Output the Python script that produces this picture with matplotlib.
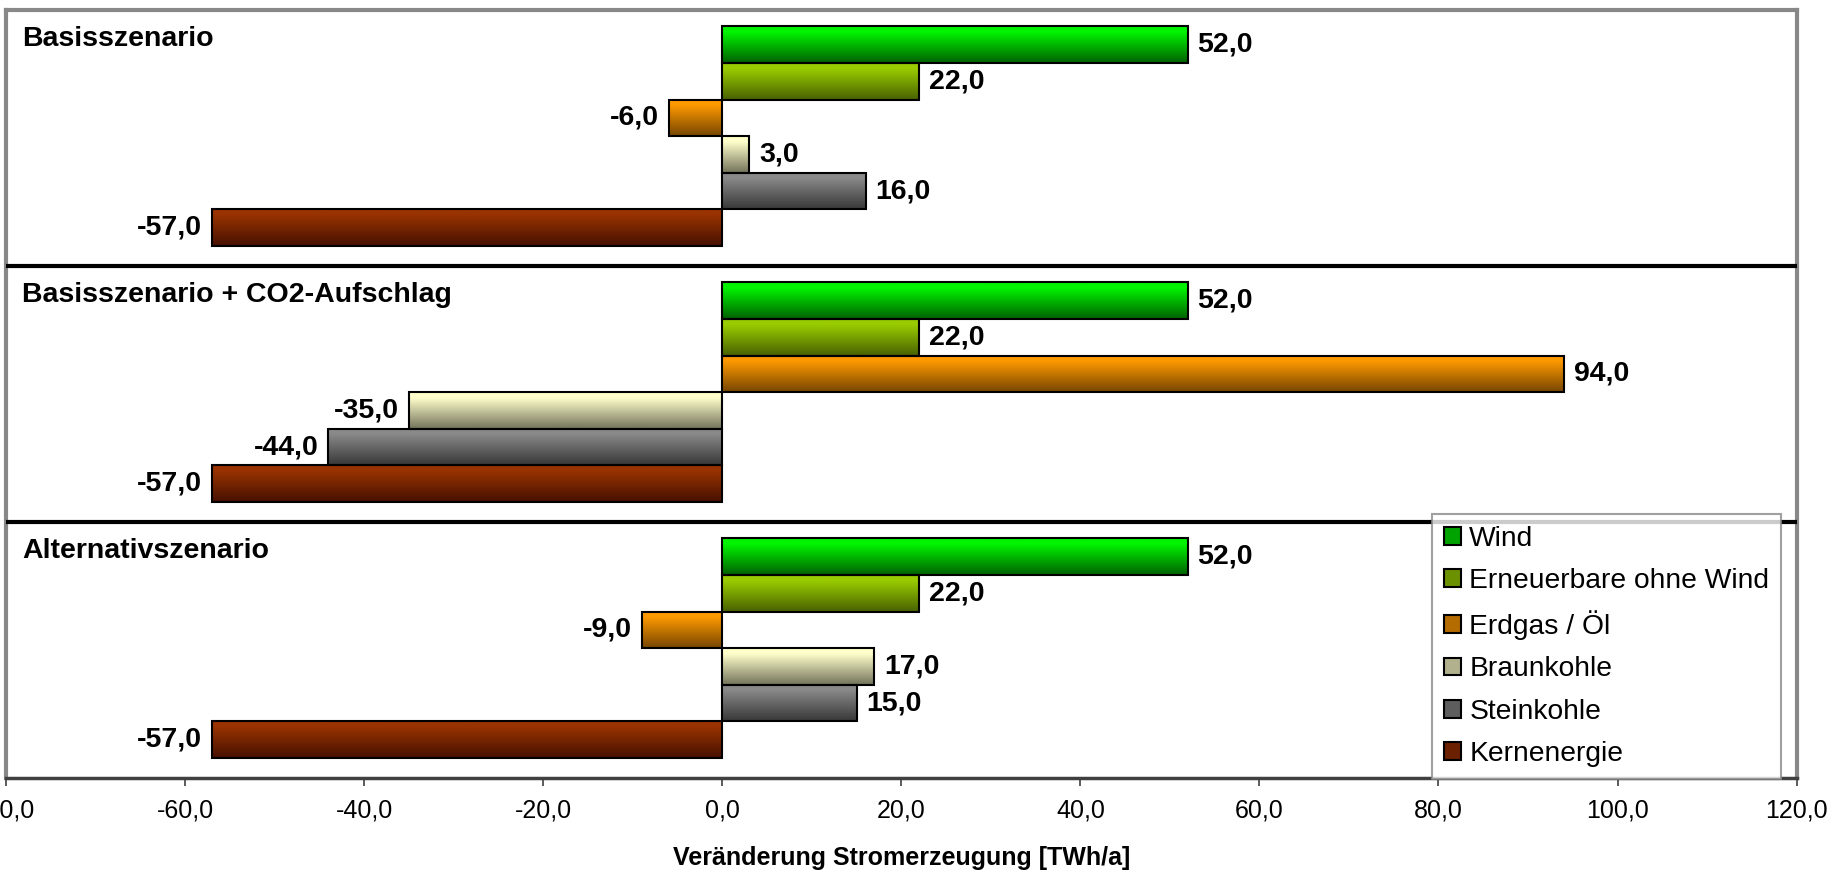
import numpy as np
import matplotlib
matplotlib.use("Agg")
import matplotlib.pyplot as plt
from matplotlib.colors import LinearSegmentedColormap, to_rgb, to_hex
from matplotlib.patches import Patch
from matplotlib.ticker import FuncFormatter, MultipleLocator

plt.rcParams['font.family'] = ['Liberation Sans', 'DejaVu Sans']

# =========================
# Daten
# =========================
szenarien = ["Basisszenario", "Basisszenario + CO2-Aufschlag", "Alternativszenario"]
energietraeger = ["Wind", "Erneuerbare ohne Wind", "Erdgas / Öl",
                  "Braunkohle", "Steinkohle", "Kernenergie"]

basis = [52.0, 22.0, -6.0, 3.0, 16.0, -57.0]
basis_co2 = [52.0, 22.0, 94.0, -35.0, -44.0, -57.0]
alternativ = [52.0, 22.0, -9.0, 17.0, 15.0, -57.0]
werte = [basis, basis_co2, alternativ]

# Farbverlauf (oben hell, unten dunkel)
farben_oben = ["#00f500", "#99cc00", "#ff9900", "#ffffcc", "#8a8a8a", "#993300"]
farben_unten = ["#006000", "#486000", "#764600", "#72725a", "#383838", "#461000"]

# =========================
# Layout
# =========================
PANEL = 7.0      # Höhe eines Szenario-Blocks in Balkeneinheiten
OFFSET = 0.95    # Mitte des ersten Balkens im Block

fig = plt.figure(figsize=(18.37, 8.93), dpi=100)
ax = fig.add_axes([0.0033, 0.1288, 0.9747, 0.86])

gradient = np.linspace(0, 1, 256).reshape(-1, 1)

for g, vals in enumerate(werte):
    y = g * PANEL + OFFSET + np.arange(len(vals))
    bars = ax.barh(y, vals, height=1.0, facecolor="none",
                   edgecolor="black", linewidth=1.5, zorder=3)
    for i, (bar, v) in enumerate(zip(bars, vals)):
        cmap = LinearSegmentedColormap.from_list(
            "g", [(0.0, farben_oben[i]), (0.15, farben_oben[i]), (1.0, farben_unten[i])])
        x0, y0 = bar.get_x(), bar.get_y()
        w, h = bar.get_width(), bar.get_height()
        im = ax.imshow(gradient, cmap=cmap, aspect="auto",
                       extent=[x0, x0 + w, y0 + h, y0], zorder=2,
                       interpolation="bicubic")
        im.set_clip_path(bar)
        txt = f"{v:.1f}".replace(".", ",")
        if v >= 0:
            ax.annotate(txt, (v, y0 + h / 2), xytext=(7, 0),
                        textcoords="offset points", ha="left", va="center",
                        fontsize=20.5, fontweight="bold")
        else:
            ax.annotate(txt, (v, y0 + h / 2), xytext=(-7, 0),
                        textcoords="offset points", ha="right", va="center",
                        fontsize=20.5, fontweight="bold")
    # Szenario-Titel
    ax.text(0.009, g * PANEL + 0.8, szenarien[g], transform=ax.get_yaxis_transform(),
            fontsize=20.5, fontweight="bold", ha="left", va="center")
    if g > 0:
        ax.axhline(g * PANEL, color="black", linewidth=3, zorder=4)

ax.set_xlim(-80, 120)
ax.set_ylim(PANEL * len(werte), 0)
ax.set_yticks([])

ax.xaxis.set_major_locator(MultipleLocator(20))
ax.xaxis.set_major_formatter(FuncFormatter(lambda v, p: f"{v:.1f}".replace(".", ",")))
ax.tick_params(axis="x", direction="out", length=6, width=1.2, labelsize=18,
               pad=9, color="#404040")

for s in ["top", "left", "right"]:
    ax.spines[s].set_color("#888888")
    ax.spines[s].set_linewidth(3)
ax.spines["bottom"].set_color("#404040")
ax.spines["bottom"].set_linewidth(2.5)

ax.set_xlabel("Veränderung Stromerzeugung [TWh/a]", fontsize=18,
              fontweight="bold", labelpad=17)

# =========================
# Legende
# =========================
handles = []
for i in range(len(energietraeger)):
    mitte = 0.45 * np.array(to_rgb(farben_oben[i])) + 0.55 * np.array(to_rgb(farben_unten[i]))
    handles.append(Patch(facecolor=to_hex(mitte), edgecolor="black", linewidth=1.5))

leg = fig.legend(handles, energietraeger, loc="lower left",
                 bbox_to_anchor=(0.7795, 0.1277), fontsize=20.3,
                 frameon=True, fancybox=False, shadow=False,
                 handlelength=0.6, handleheight=0.6, handletextpad=0.3,
                 labelspacing=0.58, borderpad=0.42, borderaxespad=0)
leg.get_frame().set_edgecolor("#888888")
leg.get_frame().set_linewidth(1.5)
leg.set_zorder(10)

fig.savefig("out.png", dpi=100)
